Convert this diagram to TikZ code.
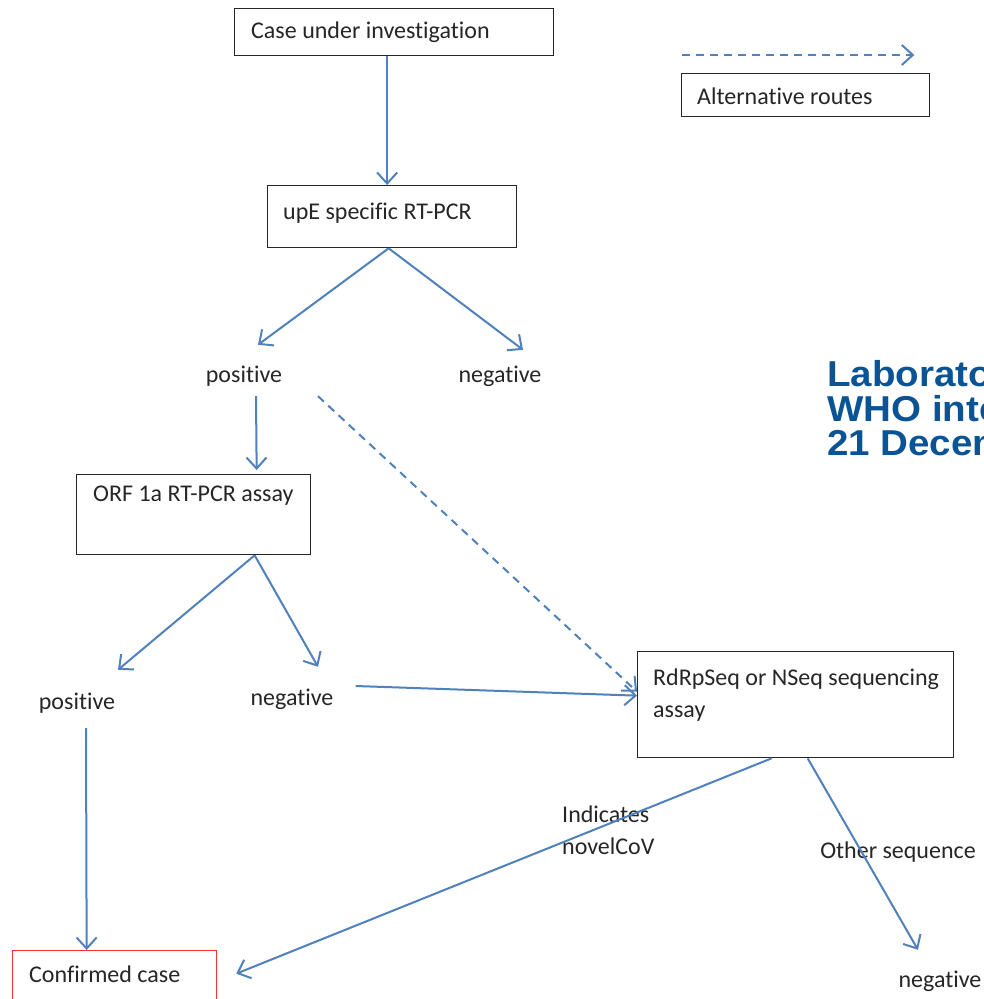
\documentclass[tikz,border=0pt]{standalone}
\usepackage{fontspec}
\setmainfont{Carlito}[Ligatures=NoCommon]
\newfontfamily\titlefont{Liberation Sans}[FakeStretch=1.07]
\usetikzlibrary{arrows.meta}
\definecolor{arrowblue}{RGB}{79,129,189}
\definecolor{titleblue}{RGB}{10,84,150}
\definecolor{boxred}{RGB}{240,50,50}
\begin{document}
\begin{tikzpicture}[x=1pt,y=-1pt,
  boxst/.style={draw=black!85, line width=1.3pt, anchor=north west, inner sep=0pt},
  redbox/.style={boxst, draw=boxred},
  txt/.style={font=\fontsize{24}{32}\selectfont, text=black!85, inner sep=0pt, text height=15pt, text depth=0pt},
  txtml/.style={font=\fontsize{24}{32}\selectfont, text=black!85, inner sep=0pt, align=left, anchor=west},
  arr/.style={draw=arrowblue, line width=2pt, -{Straight Barb[length=11pt,width=20pt]}},
  dasharr/.style={arr, dash pattern=on 8pt off 6pt},
]
\useasboundingbox (0,0) rectangle (984,999);
\clip (0,0) rectangle (984,999);
\fill[white] (0,0) rectangle (984,999);

% boxes
\node[boxst, minimum width=319pt, minimum height=47pt] (case) at (234,8) {};
\node[boxst, minimum width=249pt, minimum height=62pt] (upe) at (267,185) {};
\node[boxst, minimum width=248pt, minimum height=43pt] (alt) at (681,73) {};
\node[boxst, minimum width=234pt, minimum height=80pt] (orf) at (76,474) {};
\node[boxst, minimum width=316pt, minimum height=106pt] (rdrp) at (637,651) {};
\node[redbox, minimum width=204pt, minimum height=60pt] (conf) at (12,950) {};

% box texts
\node[txt, anchor=west] (caset) at (251,31) {Case under investigation};
\node[txt, anchor=west] (upet) at (283,212) {upE specific RT-PCR};
\node[txt, anchor=west] (altt) at (697,97) {Alternative routes};
\node[txt, anchor=west] (orft) at (93,494) {ORF 1a RT-PCR assay};
\node[txtml] (rdrpt) at (653,695) {RdRpSeq or NSeq sequencing\\assay};
\node[txt, anchor=west] (conft) at (29,975) {Confirmed case};

% labels
\node[txt] (pos1) at (244,375) {positive};
\node[txt] (neg1) at (500,375) {negative};
\node[txt] (pos2) at (77,702) {positive};
\node[txt] (neg2) at (292,698) {negative};
\node[txtml] (ind) at (562,830) {Indicates\\novelCoV};
\node[txt] (oth) at (898,851) {Other sequence};
\node[txt] (neg3) at (940,980) {negative};

% title
\node[anchor=west, align=left, inner sep=0pt, text=titleblue,
      font=\titlefont\bfseries\fontsize{36}{34.5}\selectfont] (title) at (827,408.5)
      {Laboratory\\WHO interim\\21 December};

% connectors (label nodes are 15pt tall: north = centre - 7.5, south = centre + 7.5)
\draw[arr] ([xshift=-7pt]case.south) -- ([xshift=-5pt]upe.north);
\draw[arr] ([xshift=-3.5pt]upe.south) -- ([xshift=14pt,yshift=22.5pt]pos1.north);
\draw[arr] ([xshift=-3.5pt]upe.south) -- ([xshift=23pt,yshift=17.5pt]neg1.north);
\draw[arr] ([xshift=12pt,yshift=-13.5pt]pos1.south) -- ([xshift=63pt,yshift=4pt]orf.north);
\draw[dasharr] ([xshift=74pt,yshift=-13.5pt]pos1.south) -- ([yshift=13pt]rdrp.west);
\draw[arr] ([xshift=61pt]orf.south) -- ([xshift=41pt,yshift=24.5pt]pos2.north);
\draw[arr] ([xshift=61pt]orf.south) -- ([xshift=26pt,yshift=23.5pt]neg2.north);
\draw[arr] ([xshift=22pt,yshift=12pt]neg2.east) -- ([yshift=9pt]rdrp.west);
\draw[arr] ([xshift=9pt,yshift=-18.5pt]pos2.south) -- ([xshift=-28pt]conf.north);
\draw[arr] ([xshift=-24pt]rdrp.south) -- ([xshift=19pt,yshift=7pt]conf.east);
\draw[arr] ([xshift=12pt]rdrp.south) -- ([xshift=-22pt,yshift=22.5pt]neg3.north);
\draw[dasharr] ([xshift=1pt,yshift=18pt]alt.north west) -- ([xshift=-16pt,yshift=18pt]alt.north east);
\end{tikzpicture}
\end{document}
